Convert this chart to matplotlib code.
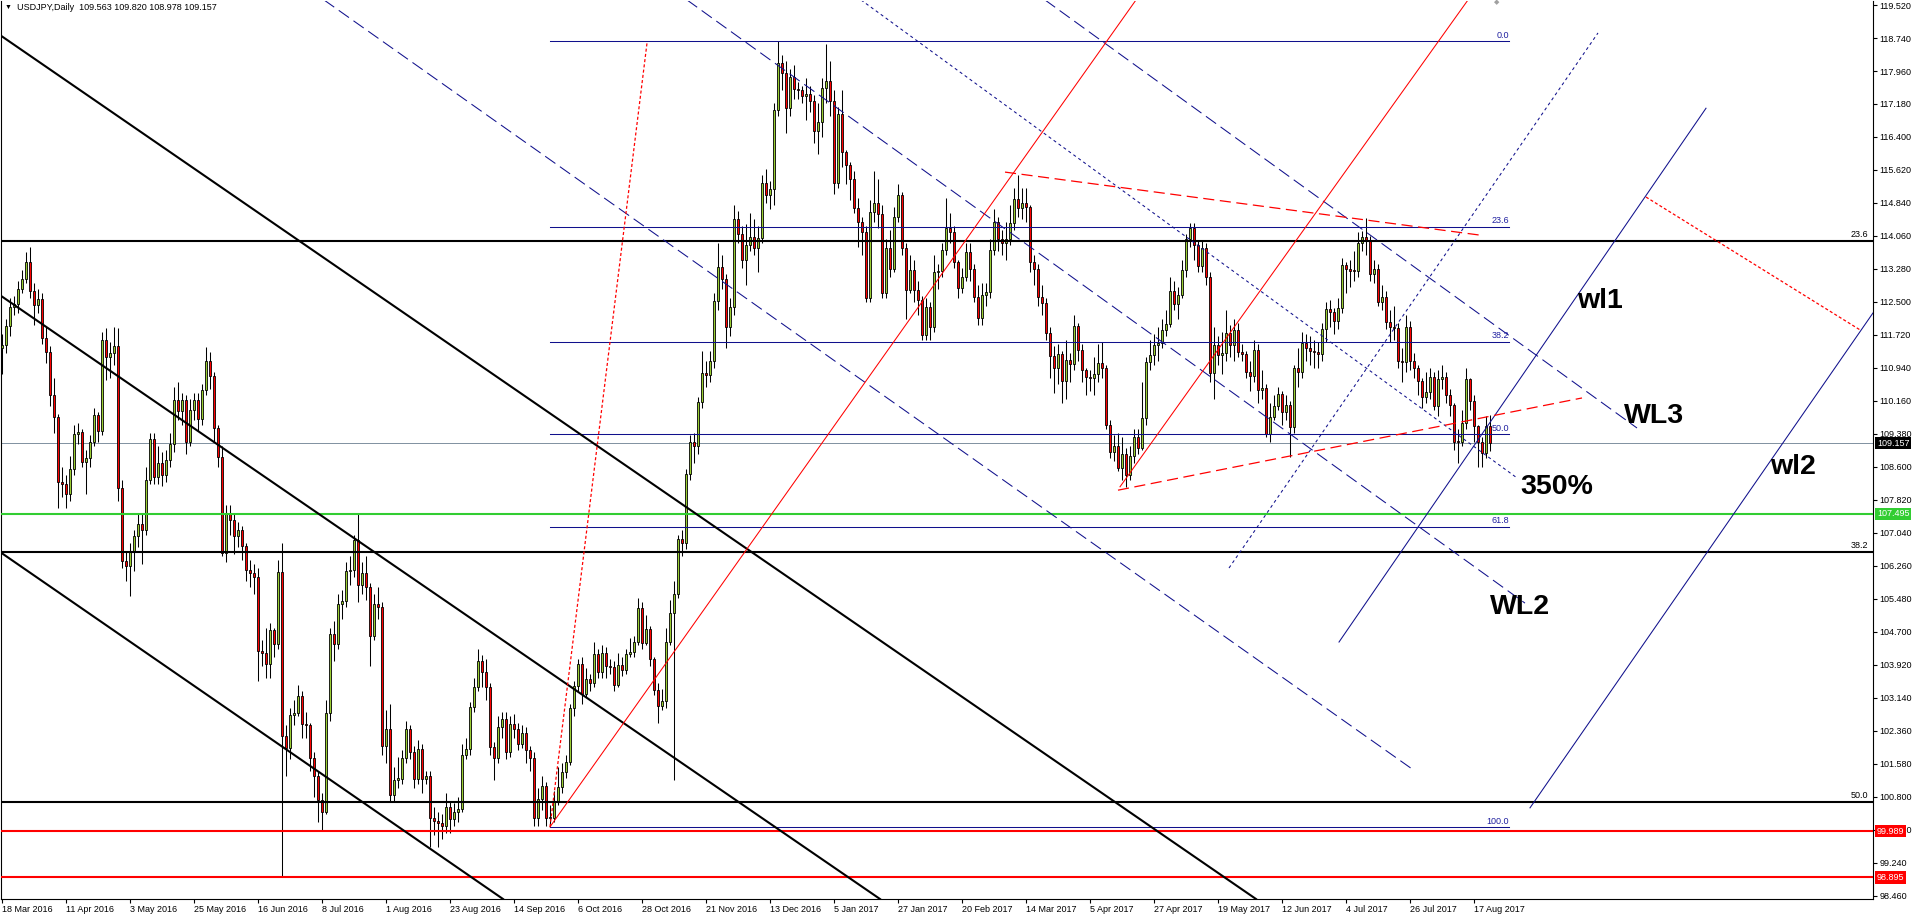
import numpy as np
import matplotlib
matplotlib.use("Agg")
import matplotlib.pyplot as plt
import matplotlib.transforms as mtransforms

plt.rcParams['font.family'] = ['Liberation Sans', 'DejaVu Sans']
plt.rcParams['lines.scale_dashes'] = False

# ---- daily USDJPY bars, open = previous close ----
first_open = 111.40
closes = [
    111.49, 111.94, 112.39, 112.44, 112.81, 113.04, 113.44, 112.76, 112.42, 112.58,
    111.65, 111.31, 110.30, 109.77, 108.24, 108.20, 107.97, 108.54, 109.37, 109.43,
    108.71, 108.81, 109.20, 109.83, 109.44, 111.59, 111.20, 111.30, 111.45, 108.11,
    106.38, 106.25, 106.62, 106.97, 107.24, 107.12, 108.30, 109.26, 108.37, 108.70,
    108.40, 108.76, 109.15, 110.18, 109.93, 110.18, 109.19, 109.95, 110.18, 109.74,
    110.42, 111.10, 110.75, 109.53, 108.84, 106.57, 107.52, 107.35, 106.97, 107.10,
    106.73, 106.17, 106.09, 106.00, 104.25, 104.19, 103.93, 104.74, 104.41, 106.12,
    102.24, 101.96, 102.74, 102.79, 103.19, 102.53, 102.49, 101.72, 101.30, 100.73,
    100.45, 102.79, 104.66, 104.41, 105.37, 105.42, 106.14, 106.16, 106.87, 105.80,
    106.10, 105.76, 104.60, 105.37, 105.29, 102.00, 102.41, 100.85, 101.21, 101.23,
    101.73, 102.41, 101.86, 101.23, 101.94, 101.22, 101.30, 100.29, 100.23, 100.19,
    100.10, 100.56, 100.28, 100.43, 100.51, 101.80, 101.92, 102.93, 103.40, 104.00,
    103.74, 103.40, 101.98, 101.72, 102.45, 102.64, 101.85, 102.53, 102.41, 102.06,
    102.30, 101.90, 101.71, 100.29, 100.74, 101.06, 100.29, 100.31, 100.69, 101.03,
    101.38, 101.62, 102.89, 103.41, 103.93, 103.23, 103.58, 103.50, 104.17, 103.75,
    104.19, 103.89, 103.86, 103.44, 103.92, 103.81, 104.17, 104.23, 104.45, 105.26,
    104.43, 104.76, 104.05, 103.33, 102.95, 103.07, 104.47, 105.14, 105.60, 106.89,
    106.80, 108.44, 109.19, 109.10, 110.13, 110.82, 110.78, 111.10, 112.52, 113.33,
    113.04, 111.91, 112.39, 114.46, 114.11, 113.50, 113.85, 114.04, 113.77, 114.02,
    115.31, 115.03, 115.16, 117.04, 118.16, 117.92, 117.08, 117.83, 117.53, 117.52,
    117.37, 117.41, 117.25, 116.53, 116.75, 117.55, 117.73, 117.24, 115.32, 116.94,
    116.05, 115.74, 115.40, 114.71, 114.40, 114.16, 112.59, 114.62, 114.83, 114.57,
    112.70, 113.78, 113.27, 114.50, 115.04, 113.77, 112.78, 113.25, 112.78, 112.55,
    111.72, 112.39, 111.91, 113.20, 113.22, 113.73, 114.24, 114.16, 113.45, 112.82,
    113.08, 113.67, 113.29, 112.61, 112.11, 112.66, 112.74, 113.73, 114.40, 113.98,
    113.89, 113.98, 114.37, 114.93, 114.71, 114.85, 114.74, 113.45, 113.29, 112.62,
    112.48, 111.76, 111.23, 110.95, 111.28, 110.64, 111.13, 111.03, 111.92, 111.36,
    110.88, 110.72, 110.71, 110.80, 111.05, 110.93, 109.59, 108.96, 109.09, 108.57,
    108.91, 108.41, 108.86, 109.30, 109.05, 109.75, 111.09, 111.25, 111.48, 111.52,
    111.84, 111.99, 112.76, 112.45, 112.66, 113.26, 113.98, 114.26, 113.85, 113.35,
    113.77, 113.10, 110.81, 111.48, 111.25, 111.29, 111.77, 111.48, 111.84, 111.32,
    111.27, 110.84, 110.75, 111.36, 110.42, 110.46, 109.39, 109.79, 110.04, 110.32,
    109.90, 110.06, 109.55, 110.93, 110.85, 111.52, 111.42, 111.35, 111.31, 111.28,
    111.85, 112.33, 112.27, 112.05, 112.35, 113.37, 113.27, 113.24, 113.22, 113.90,
    114.03, 113.93, 113.16, 113.27, 112.51, 112.61, 112.03, 111.90, 111.88, 111.11,
    111.08, 111.90, 111.11, 110.93, 110.62, 110.25, 110.38, 110.73, 110.04, 110.69,
    110.73, 110.30, 110.06, 109.20, 109.19, 109.65, 110.67, 110.17, 109.57, 109.20,
    108.92, 109.563, 109.157,
]
highs = [
    111.75, 112.10, 112.60, 112.65, 113.00, 113.25, 113.69, 113.81, 112.95, 112.80,
    112.70, 111.90, 111.45, 110.70, 109.85, 108.60, 108.40, 108.85, 109.60, 109.65,
    109.50, 109.00, 109.35, 110.00, 109.90, 111.80, 111.88, 111.55, 111.90, 111.88,
    108.30, 106.60, 106.80, 107.10, 107.50, 107.50, 108.60, 109.40, 109.40, 109.10,
    108.95, 109.00, 109.40, 110.50, 110.60, 110.35, 110.30, 110.20, 110.35, 110.35,
    110.55, 111.43, 111.32, 110.85, 109.60, 109.10, 107.70, 107.70, 107.50, 107.30,
    107.20, 106.80, 106.40, 106.30, 106.20, 104.50, 104.80, 104.90, 104.80, 106.40,
    106.80, 102.50, 102.90, 103.10, 103.45, 103.30, 102.80, 102.55, 101.85, 101.40,
    100.90, 103.10, 104.80, 104.95, 105.60, 105.70, 106.35, 106.50, 107.00, 107.49,
    106.35, 106.50, 105.85, 105.60, 105.75, 105.40, 102.85, 103.00, 101.50, 101.75,
    101.90, 102.60, 102.50, 102.00, 102.15, 102.05, 101.40, 101.40, 100.55, 100.45,
    100.40, 100.90, 100.70, 100.65, 100.80, 102.05, 102.20, 103.05, 103.60, 104.30,
    104.15, 104.05, 103.50, 102.10, 102.70, 102.80, 102.80, 102.70, 102.75, 102.55,
    102.50, 102.45, 102.00, 101.85, 101.00, 101.30, 101.15, 100.60, 100.95, 101.50,
    101.60, 101.80, 103.00, 103.55, 104.05, 104.10, 103.85, 103.70, 104.45, 104.30,
    104.40, 104.35, 104.05, 104.00, 104.20, 104.10, 104.30, 104.55, 104.60, 105.50,
    105.40, 105.10, 104.85, 104.10, 103.50, 103.35, 104.80, 105.45, 105.90, 107.00,
    107.10, 108.55, 109.35, 109.40, 110.25, 111.35, 111.10, 111.35, 112.70, 113.90,
    113.60, 113.15, 112.60, 114.80, 114.65, 114.30, 114.35, 114.60, 114.45, 114.30,
    115.50, 115.65, 115.35, 117.20, 118.66, 118.35, 118.20, 118.00, 118.10, 117.70,
    117.60, 117.80, 117.60, 117.40, 117.20, 117.80, 118.60, 118.20, 117.50, 117.10,
    117.50, 116.10, 115.80, 115.60, 114.95, 114.50, 114.30, 114.90, 115.60, 115.40,
    114.80, 114.00, 114.20, 114.75, 115.30, 115.10, 113.90, 113.60, 113.50, 113.00,
    112.65, 112.60, 112.50, 113.60, 113.40, 113.90, 114.95, 114.60, 114.30, 113.50,
    113.30, 113.90, 113.90, 113.40, 112.90, 112.95, 112.95, 114.00, 114.70, 114.50,
    114.20, 114.40, 114.80, 115.20, 115.50, 115.20, 115.20, 114.80, 113.60, 113.40,
    112.90, 112.60, 111.90, 111.45, 111.50, 111.35, 111.60, 111.30, 112.20, 112.00,
    111.50, 110.95, 110.90, 111.20, 111.50, 111.55, 111.00, 109.70, 109.35, 109.40,
    109.30, 109.05, 109.10, 109.50, 109.50, 110.60, 111.20, 111.60, 111.75, 111.90,
    112.10, 112.30, 113.10, 113.00, 112.85, 113.50, 114.10, 114.37, 114.37, 113.95,
    113.95, 113.90, 113.20, 111.90, 111.70, 111.80, 112.30, 111.95, 112.10, 112.00,
    111.50, 111.35, 111.10, 111.60, 111.50, 110.90, 110.55, 110.10, 110.30, 110.50,
    110.40, 110.30, 110.15, 111.00, 111.40, 111.80, 111.75, 111.70, 111.60, 111.55,
    112.00, 112.50, 112.55, 112.35, 112.60, 113.55, 113.45, 113.50, 113.70, 114.15,
    114.18, 114.49, 114.05, 113.50, 113.40, 112.90, 112.75, 112.30, 112.40, 112.00,
    111.40, 112.20, 112.05, 111.30, 111.00, 110.70, 110.85, 110.95, 110.85, 110.90,
    111.00, 110.85, 110.45, 110.10, 109.50, 109.95, 110.95, 110.70, 110.30, 109.60,
    109.30, 109.80, 109.820,
]
lows = [
    110.80, 111.30, 111.70, 112.20, 112.25, 112.70, 112.95, 112.60, 111.95, 112.25,
    111.50, 111.05, 110.05, 109.40, 107.63, 107.90, 107.63, 107.80, 108.40, 109.15,
    108.60, 107.95, 108.60, 109.10, 109.20, 109.35, 110.65, 110.70, 111.00, 107.80,
    106.20, 105.90, 105.54, 106.15, 106.70, 106.30, 107.00, 108.20, 108.20, 108.20,
    108.15, 108.25, 108.60, 108.95, 109.70, 109.60, 108.90, 109.10, 109.70, 109.45,
    109.60, 110.30, 110.45, 109.20, 108.60, 106.50, 106.35, 107.00, 106.55, 106.70,
    106.40, 105.90, 105.75, 105.60, 103.55, 103.90, 103.60, 103.60, 104.10, 104.30,
    98.90, 101.30, 101.70, 102.50, 102.70, 102.20, 102.20, 101.40, 100.80, 100.20,
    99.99, 100.40, 102.60, 104.00, 104.30, 105.00, 105.30, 105.80, 106.00, 105.40,
    105.60, 105.45, 103.90, 104.50, 105.00, 101.80, 101.60, 100.70, 100.70, 101.00,
    101.10, 101.60, 101.70, 101.00, 101.10, 100.90, 101.10, 99.62, 99.90, 99.62,
    99.80, 99.95, 99.95, 100.10, 100.20, 100.45, 101.70, 101.80, 102.80, 103.30,
    103.40, 103.10, 101.80, 101.20, 101.60, 102.20, 101.70, 101.75, 102.20, 101.90,
    101.95, 101.60, 101.40, 100.10, 100.10, 100.50, 100.10, 100.08, 100.20, 100.60,
    100.90, 101.25, 101.55, 102.70, 103.30, 103.00, 103.15, 103.30, 103.40, 103.60,
    103.60, 103.60, 103.70, 103.30, 103.40, 103.65, 103.70, 104.10, 104.10, 104.40,
    104.30, 104.40, 103.90, 103.20, 102.55, 102.85, 102.90, 104.40, 101.19, 105.50,
    106.50, 106.65, 108.30, 108.70, 108.90, 110.00, 110.50, 110.60, 110.95, 112.30,
    112.80, 111.40, 111.70, 112.20, 113.90, 113.30, 112.90, 113.70, 113.60, 113.20,
    113.90, 114.85, 114.70, 114.80, 116.90, 117.50, 116.50, 116.90, 117.30, 117.30,
    117.20, 116.80, 117.00, 116.25, 116.00, 116.40, 117.20, 116.90, 115.05, 115.20,
    115.70, 115.30, 114.90, 114.60, 113.80, 113.60, 112.50, 112.50, 114.40, 114.25,
    112.60, 112.60, 113.10, 113.20, 114.40, 113.60, 112.10, 112.70, 112.50, 112.20,
    111.60, 111.60, 111.60, 111.80, 112.80, 113.10, 113.60, 113.90, 113.30, 112.60,
    112.70, 113.00, 113.00, 112.50, 111.95, 111.95, 112.40, 112.60, 113.60, 113.70,
    113.60, 113.50, 113.85, 114.20, 114.50, 114.45, 114.40, 113.20, 112.90, 112.40,
    112.20, 111.60, 110.70, 110.35, 110.55, 110.10, 110.20, 110.60, 110.90, 111.10,
    110.60, 110.30, 110.40, 110.30, 110.60, 110.70, 109.50, 108.80, 108.75, 108.50,
    108.30, 108.13, 108.30, 108.70, 108.90, 109.00, 109.60, 110.90, 111.00, 111.10,
    111.40, 111.70, 111.90, 112.30, 112.10, 112.60, 113.10, 113.80, 113.50, 113.20,
    113.20, 112.90, 110.60, 110.20, 111.00, 110.80, 111.10, 111.20, 111.10, 111.20,
    111.10, 110.70, 110.40, 110.60, 110.10, 110.20, 109.30, 109.20, 109.70, 109.95,
    109.60, 109.70, 108.84, 109.40, 110.50, 110.70, 111.10, 111.00, 110.95, 110.95,
    111.10, 111.55, 111.90, 111.75, 111.85, 112.25, 112.70, 112.85, 113.00, 113.10,
    113.70, 113.60, 113.00, 112.95, 112.40, 112.30, 111.85, 111.55, 111.60, 110.95,
    110.60, 110.85, 110.90, 110.70, 110.30, 110.00, 110.10, 110.20, 109.95, 109.80,
    110.45, 110.10, 109.80, 109.00, 108.70, 109.10, 109.50, 109.95, 109.20, 108.60,
    108.60, 108.80, 108.978,
]

date_labels = [
    '18 Mar 2016', '11 Apr 2016', '3 May 2016', '25 May 2016', '16 Jun 2016',
    '8 Jul 2016', '1 Aug 2016', '23 Aug 2016', '14 Sep 2016', '6 Oct 2016',
    '28 Oct 2016', '21 Nov 2016', '13 Dec 2016', '5 Jan 2017', '27 Jan 2017',
    '20 Feb 2017', '14 Mar 2017', '5 Apr 2017', '27 Apr 2017', '19 May 2017',
    '12 Jun 2017', '4 Jul 2017', '26 Jul 2017', '17 Aug 2017',
]
bars_per_label = 16

# price scale
price_tick_start = 98.46
price_tick_step = 0.78
price_tick_count = 28

# horizontal levels
black_levels = [113.94, 106.59, 100.68]
black_tags = ['23.6', '38.2', '50.0']
green_level = 107.495
red_levels = [99.989, 98.895]
bid_price = 109.157

# fibonacci retracement drawn from the Sep low to the Dec high
fib_high, fib_low = 118.66, 100.08
fib_ratios = [0.0, 23.6, 38.2, 50.0, 61.8, 100.0]
fib_from, fib_to = 137, 376.75

# trend lines as (bar, price) end points
black_channel = [((-0.5, 118.81), (313.5, 98.385)),
                 ((-0.5, 112.66), (219.5, 98.385)),
                 ((-0.5, 106.59), (125.25, 98.385))]
blue_dashed = [((80.5, 119.64), (352.5, 101.46)),
               ((171.25, 119.64), (380.75, 105.38)),
               ((260.75, 119.64), (408.75, 109.52))]
blue_dotted = [((214.75, 119.64), (378.75, 108.34)),
               ((306.75, 106.21), (399.0, 118.86))]
blue_solid = [((334.25, 104.46), (426.0, 117.08)),
              ((382.0, 100.54), (467.75, 112.24))]
red_solid = [((137.0, 100.09), (283.5, 119.64)),
             ((279.5, 108.13), (366.5, 119.64))]
red_dotted = [((137.0, 100.09), (161.25, 118.62)),
              ((411.0, 114.98), (464.5, 111.84))]
red_dashed = [((250.75, 115.57), (369.5, 114.08)),
              ((279.0, 108.05), (395.0, 110.23))]

# big chart labels (bar, price baseline)
big_labels = ['wl1', 'WL3', 'wl2', '350%', 'WL2']
big_label_pos = [(393.75, 112.36), (405.5, 109.64), (442.0, 108.43),
                 (379.5, 107.96), (372.0, 105.12)]

header = 'USDJPY,Daily  109.563 109.820 108.978 109.157'

BULL = '#9ACD32'
BEAR = '#FF0000'
NAVY = '#10108C'

W, H = 1917, 923
fig = plt.figure(figsize=(W / 100, H / 100), dpi=100)
fig.patch.set_facecolor('white')
ax = fig.add_axes([1 / W, (H - 899) / H, 1872 / W, 898 / H])
ax.set_xlim(-0.25, 467.75)
ax.set_ylim(98.385, 119.615)
ax.set_facecolor('white')

# candles
idx = np.arange(len(closes))
c = np.array(closes)
o = np.concatenate([[first_open], c[:-1]])
up = c >= o
body_lo = np.minimum(o, c)
body_h = np.maximum(np.abs(c - o), 0.025)
ax.vlines(idx, lows, highs, color='black', lw=0.75, zorder=2)
ax.bar(idx, body_h, bottom=body_lo, width=0.58,
       color=np.where(up, BULL, BEAR), edgecolor='black', linewidth=0.6, zorder=2.5)

# horizontal lines
for lvl, tag in zip(black_levels, black_tags):
    ax.axhline(lvl, color='black', lw=1.5, zorder=3)
    ax.text(466.6, lvl + 0.04, tag, ha='right', va='bottom', fontsize=6.5, color='black', zorder=4)
ax.axhline(green_level, color='#32CD32', lw=1.5, zorder=3)
for lvl in red_levels:
    ax.axhline(lvl, color=BEAR, lw=1.5, zorder=3)
ax.axhline(bid_price, color='#8090A0', lw=0.7, zorder=1.5)

for r in fib_ratios:
    lvl = fib_high - (fib_high - fib_low) * r / 100.0
    ax.plot([fib_from, fib_to], [lvl, lvl], color=NAVY, lw=0.75, zorder=3)
    ax.text(fib_to, lvl + 0.04, f'{r:.1f}', ha='right', va='bottom', fontsize=6.5,
            color='#2020A0', zorder=4)


def draw(lines, **kw):
    for (x0, y0), (x1, y1) in lines:
        ax.plot([x0, x1], [y0, y1], zorder=3, **kw)


draw(black_channel, color='black', lw=1.5)
draw(blue_dashed, color=NAVY, lw=0.75, linestyle=(0, (9, 4)))
draw(blue_dotted, color=NAVY, lw=0.75, linestyle=(0, (2.2, 2.2)))
draw(blue_solid, color=NAVY, lw=0.75)
draw(red_solid, color=BEAR, lw=0.75)
draw(red_dotted, color=BEAR, lw=0.9, linestyle=(0, (2.2, 1.6)))
draw(red_dashed, color=BEAR, lw=0.9, linestyle=(0, (8, 4)))

for txt, (bx, py) in zip(big_labels, big_label_pos):
    ax.text(bx, py, txt, ha='left', va='baseline', fontsize=20.5, fontweight='bold',
            color='black', zorder=5)

# axes styling
for s in ax.spines.values():
    s.set_color('black')
    s.set_linewidth(0.8)
ax.spines['top'].set_visible(False)

ax.yaxis.tick_right()
yt = [round(price_tick_start + price_tick_step * k, 3) for k in range(price_tick_count)]
ax.set_yticks(yt)
ax.set_yticklabels([f'{v:.3f}' for v in yt])
ax.tick_params(axis='y', direction='out', length=3, width=0.8, pad=1.5, labelsize=6.5)

xt = [bars_per_label * k for k in range(len(date_labels))]
ax.set_xticks(xt)
ax.set_xticklabels(date_labels, ha='left')
ax.tick_params(axis='x', direction='out', length=3, width=0.8, pad=1.5, labelsize=6.5)

# coloured price tags on the right axis
trans = mtransforms.blended_transform_factory(ax.transAxes, ax.transData)
tags = [(bid_price, 'black', 'white'), (green_level, '#32CD32', 'white'),
        (red_levels[0], BEAR, 'white'), (red_levels[1], BEAR, 'white')]
for val, bg, fg in tags:
    ax.text(1.0 + 4 / 1872, val, f'{val:.3f}', transform=trans, ha='left', va='center',
            fontsize=6.5, color=fg, clip_on=False, zorder=6,
            bbox=dict(boxstyle='square,pad=0.18', fc=bg, ec='none'))

# header and shift marker
fig.text(5 / W, 1 - 7 / H, '\u25bc', fontsize=5, va='center', ha='left', color='black')
fig.text(17 / W, 1 - 7 / H, header, fontsize=6.5, va='center', ha='left', color='black')
fig.text(1497 / W, 1 - 3 / H, '\u25c6', fontsize=5, va='center', ha='center', color='#A0A0A0')

fig.savefig('out.png', dpi=100, facecolor='white')
